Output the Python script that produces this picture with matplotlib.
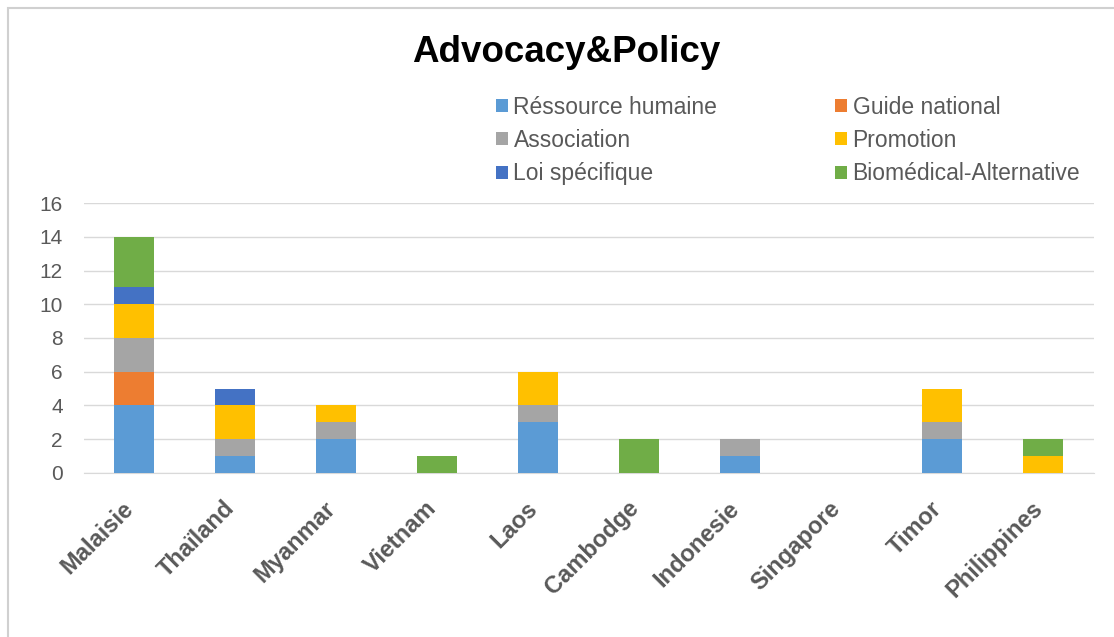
import matplotlib
matplotlib.use("Agg")
import matplotlib.pyplot as plt
from matplotlib.patches import Rectangle
import matplotlib.transforms as mtransforms
import numpy as np

countries = ["Malaisie", "Thaïland", "Myanmar", "Vietnam", "Laos", "Cambodge",
             "Indonesie", "Singapore", "Timor", "Philippines"]
series_names = ["Réssource humaine", "Guide national", "Association", "Promotion",
                "Loi spécifique", "Biomédical-Alternative"]
ressource = [4, 1, 2, 0, 3, 0, 1, 0, 2, 0]
guide = [2, 0, 0, 0, 0, 0, 0, 0, 0, 0]
association = [2, 1, 1, 0, 1, 0, 1, 0, 1, 0]
promotion = [2, 2, 1, 0, 2, 0, 0, 0, 2, 1]
loi = [1, 1, 0, 0, 0, 0, 0, 0, 0, 0]
biomedical = [3, 0, 0, 1, 0, 2, 0, 0, 0, 1]
yticks = [0, 2, 4, 6, 8, 10, 12, 14, 16]

colors = ["#5B9BD5", "#ED7D31", "#A5A5A5", "#FFC000", "#4472C4", "#70AD47"]
series = [ressource, guide, association, promotion, loi, biomedical]
FAM = ["Liberation Sans", "DejaVu Sans"]

fig = plt.figure(figsize=(11.14, 6.37), dpi=100)
fig.patches.append(Rectangle((0.007, -0.01), 1.2, 0.997, transform=fig.transFigure,
                             fill=False, edgecolor="#D0D0D0", linewidth=1.5))
ax = fig.add_axes([0.075, 0.2575, 0.9066, 0.4238])

x = np.arange(len(countries))
bottom = np.zeros(len(countries))
handles = []
for name, vals, c in zip(series_names, series, colors):
    v = np.array(vals, dtype=float)
    b = ax.bar(x, v, 0.4, bottom=bottom, color=c, label=name, zorder=3)
    handles.append(b)
    bottom += v

ax.set_xlim(-0.5, len(countries) - 0.5)
ax.set_ylim(0, 16)
ax.set_yticks(yticks)
ax.set_yticklabels([str(t) for t in yticks], fontsize=15, color="#595959", family=FAM)
ax.grid(axis="y", color="#D9D9D9", linewidth=1, zorder=0)
for s in ["top", "right", "left"]:
    ax.spines[s].set_visible(False)
ax.spines["bottom"].set_color("#D9D9D9")
ax.tick_params(axis="y", length=0, pad=15)
ax.tick_params(axis="x", length=0, pad=10)
ax.set_xticks(x)
ax.set_xticklabels(countries, rotation=45, ha="right", rotation_mode="anchor",
                   fontsize=17, fontweight="bold", color="#595959", family=FAM)
offset = mtransforms.ScaledTranslation(-12 / 100, -10 / 100, fig.dpi_scale_trans)
for lab in ax.get_xticklabels():
    lab.set_transform(lab.get_transform() + offset)

fig.text(0.508, 0.918, "Advocacy&Policy", ha="center", va="center",
         fontsize=26.5, fontweight="bold", color="black", family=FAM)

order = [0, 2, 4, 1, 3, 5]
leg = fig.legend(handles=[handles[i] for i in order],
                 labels=[series_names[i] for i in order], ncol=2, loc="upper left",
                 bbox_to_anchor=(0.427, 0.882), frameon=False,
                 prop={"size": 16.5, "family": FAM},
                 handlelength=0.5, handleheight=0.5, handletextpad=0.25,
                 columnspacing=5.15, labelspacing=0.45, labelcolor="#595959")

fig.savefig("out.png", dpi=100)
